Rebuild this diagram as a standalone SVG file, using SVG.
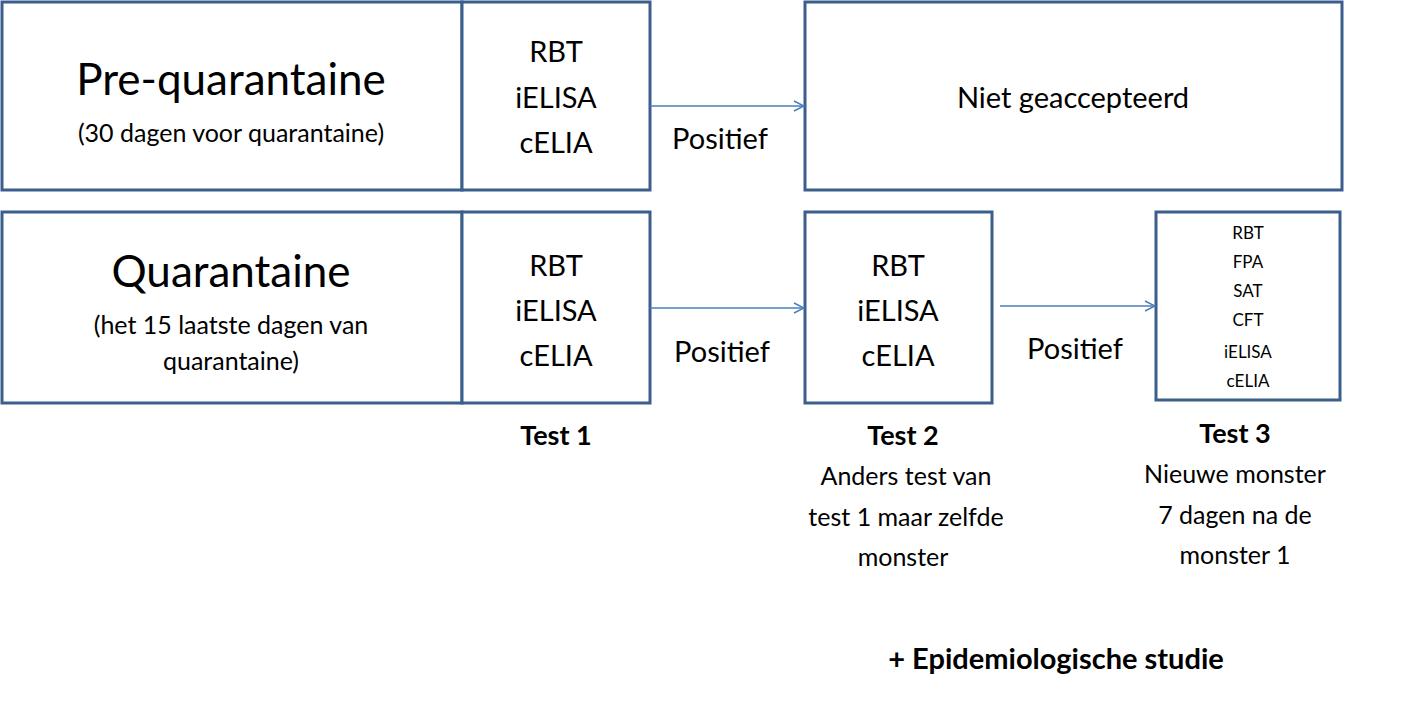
<svg xmlns="http://www.w3.org/2000/svg" width="1406" height="704" viewBox="0 0 1406 704">
<style>
.b{fill:#fff;stroke:#3B5E8C;stroke-width:3}
text{font-family:Lato,"Open Sans",sans-serif;fill:#000;text-anchor:middle}
.c{stroke:#4A7EBB;stroke-width:1.5;fill:none;marker-end:url(#a)}
</style>
<defs><marker id="a" viewBox="0 0 12 12" refX="11" refY="6" markerWidth="12" markerHeight="12" markerUnits="userSpaceOnUse" orient="auto"><path d="M1,1 L11,6 L1,11" fill="none" stroke="#4A7EBB" stroke-width="1.5"/></marker></defs>
<rect width="1406" height="704" fill="#fff"/>
<g id="pre"><rect class="b" x="2" y="2" width="460" height="188"/><text x="231" y="95" font-size="44">Pre-quarantaine</text><text x="231" y="142" font-size="25">(30 dagen voor quarantaine)</text></g>
<g id="pretest"><rect class="b" x="462" y="2" width="188" height="188"/><text x="556" y="62" font-size="29">RBT</text><text x="556" y="108" font-size="29">iELISA</text><text x="556" y="153" font-size="29">cELIA</text></g>
<g id="niet"><rect class="b" x="805" y="2" width="537" height="188"/><text x="1073" y="108" font-size="29">Niet geaccepteerd</text></g>
<g id="quar"><rect class="b" x="2" y="212" width="460" height="191"/><text x="231" y="287" font-size="44">Quarantaine</text><text x="231" y="334" font-size="25">(het 15 laatste dagen van</text><text x="231" y="370" font-size="25">quarantaine)</text></g>
<g id="test1"><rect class="b" x="462" y="212" width="188" height="191"/><text x="556" y="276" font-size="29">RBT</text><text x="556" y="321" font-size="29">iELISA</text><text x="556" y="366" font-size="29">cELIA</text><text x="556" y="445" font-size="27" font-weight="bold">Test 1</text></g>
<g id="test2"><rect class="b" x="805" y="212" width="187" height="191"/><text x="898" y="276" font-size="29">RBT</text><text x="898" y="321" font-size="29">iELISA</text><text x="898" y="366" font-size="29">cELIA</text><text x="903" y="445" font-size="27" font-weight="bold">Test 2</text><text x="906" y="485" font-size="25">Anders test van</text><text x="906" y="526" font-size="25">test 1 maar zelfde</text><text x="903" y="566" font-size="25">monster</text></g>
<g id="test3"><rect class="b" x="1156" y="212" width="184" height="188"/><g font-size="17"><text x="1248" y="239">RBT</text><text x="1248" y="268">FPA</text><text x="1248" y="297">SAT</text><text x="1248" y="326">CFT</text><text x="1248" y="358">iELISA</text><text x="1248" y="387">cELIA</text></g><text x="1235" y="443" font-size="27" font-weight="bold">Test 3</text><text x="1235" y="483" font-size="25">Nieuwe monster</text><text x="1235" y="524" font-size="25">7 dagen na de</text><text x="1235" y="564" font-size="25">monster 1</text></g>
<g id="connectors"><path class="c" d="M650,106 H804"/><path class="c" d="M650,308 H804"/><path class="c" d="M1000,306 H1155"/>
<text x="720" y="149" font-size="29">Positief</text><text x="722" y="362" font-size="29">Positief</text><text x="1075" y="359" font-size="29">Positief</text></g>
<text x="1056" y="669" font-size="29" font-weight="bold">+ Epidemiologische studie</text>
</svg>
